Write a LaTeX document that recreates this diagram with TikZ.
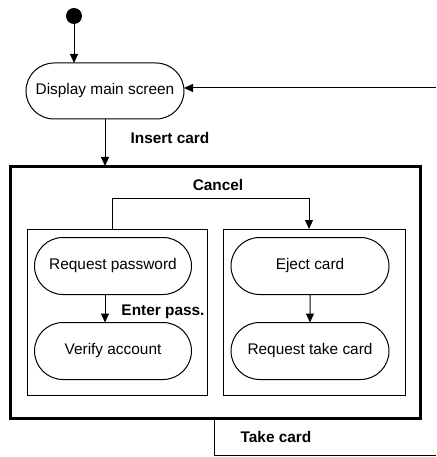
\documentclass[tikz,border=0pt]{standalone}
\usepackage{fontspec}
\setmainfont{Liberation Sans}
\usetikzlibrary{arrows.meta,shapes.misc}
\begin{document}
\begin{tikzpicture}[x=1pt,y=-1pt,
  every node/.style={font=\fontsize{15.4}{18}\selectfont, inner sep=0pt, outer sep=0pt},
  state/.style={draw, line width=1pt, rounded rectangle, minimum height=57pt},
  lane/.style={draw, line width=1pt, rectangle},
  lbl/.style={font=\fontsize{15.4}{18}\selectfont\bfseries},
  conn/.style={line width=1pt, -{Triangle[length=9pt,width=8pt]}},
  plain/.style={line width=1pt}]
\useasboundingbox (0,0) rectangle (436,457);
\node[circle, fill=black, minimum size=16pt] (start) at (74,16) {};
\node[state, minimum width=158pt, minimum height=56pt] (disp) at (105,91) {Display main screen};
\node[draw, line width=3pt, rectangle, minimum width=410pt, minimum height=252pt] (outer) at (215,292) {};
\node[lane, minimum width=180pt, minimum height=166pt] (left) at (117,312) {};
\node[lane, minimum width=182pt, minimum height=166pt] (right) at (314,312) {};
\node[state, minimum width=157pt] (reqpw) at (113,266) {Request password};
\node[state, minimum width=157pt] (verify) at (113,351) {Verify account};
\node[state, minimum width=158pt] (eject) at (310,266) {Eject card};
\node[state, minimum width=158pt] (reqtake) at (310,351) {Request take card};
\coordinate (retin) at (436,88);
\coordinate (takeout) at (436,455);
\draw[conn] (start) -- (start |- disp.north);
\draw[conn] (retin) -- (retin -| disp.east);
\draw[conn] (105,0 |- disp.south) -- (105,0 |- outer.north);
\node[lbl] at (170,138) {Insert card};
\draw[conn] (112,0 |- left.north) -- (112,198) -- (309,198) -- (309,0 |- right.north);
\node[lbl] at (218,185) {Cancel};
\draw[conn] (105,0 |- reqpw.south) -- (105,0 |- verify.north);
\node[lbl] at (163,312) {Enter pass.};
\draw[conn] (eject) -- (reqtake);
\draw[plain] (214,0 |- outer.south) -- (214,455) -- (takeout);
\node[lbl] at (276,437) {Take card};
\end{tikzpicture}
\end{document}
